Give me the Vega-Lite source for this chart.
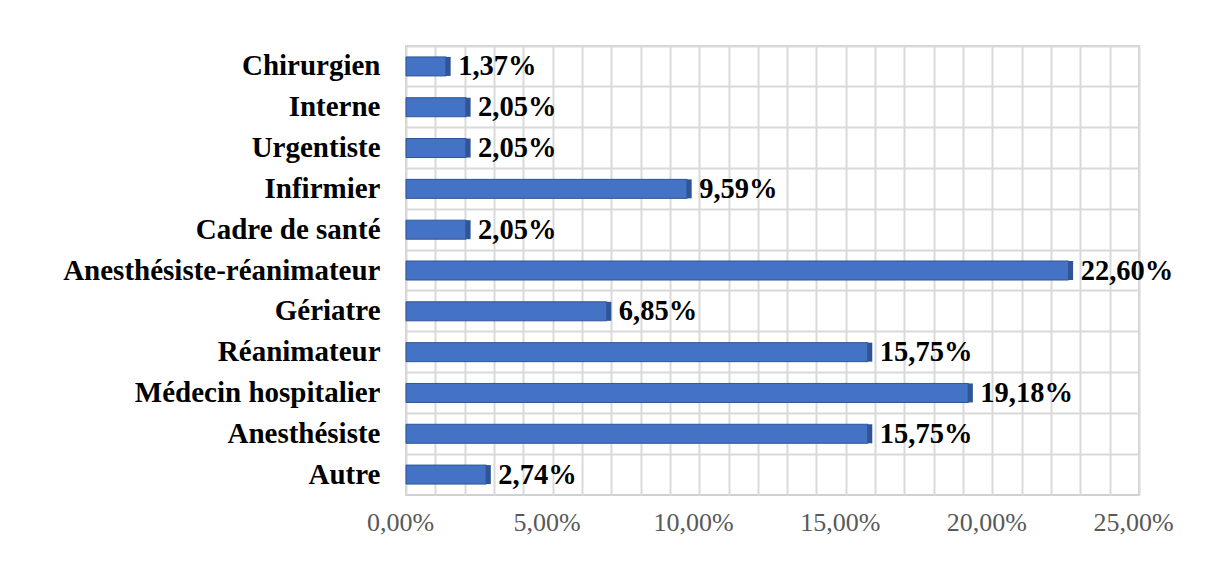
{
  "$schema": "https://vega.github.io/schema/vega-lite/v6.json",
  "width": 733,
  "height": 449,
  "autosize": {"type": "none"},
  "padding": {"left": 406, "top": 46, "right": 85, "bottom": 67},
  "background": "white",
  "config": {
    "locale": {"number": {"decimal": ",", "thousands": " ", "grouping": [3], "currency": ["", " €"]}},
    "view": {"stroke": "#D0D0D0", "strokeWidth": 2},
    "font": "Liberation Serif"
  },
  "data": {
    "values": [
      {"categorie": "Chirurgien", "pct": 0.0137},
      {"categorie": "Interne", "pct": 0.0205},
      {"categorie": "Urgentiste", "pct": 0.0205},
      {"categorie": "Infirmier", "pct": 0.0959},
      {"categorie": "Cadre de santé", "pct": 0.0205},
      {"categorie": "Anesthésiste-réanimateur", "pct": 0.226},
      {"categorie": "Gériatre", "pct": 0.0685},
      {"categorie": "Réanimateur", "pct": 0.1575},
      {"categorie": "Médecin hospitalier", "pct": 0.1918},
      {"categorie": "Anesthésiste", "pct": 0.1575},
      {"categorie": "Autre", "pct": 0.0274}
    ]
  },
  "encoding": {
    "y": {
      "field": "categorie", "type": "nominal", "sort": null,
      "scale": {"paddingInner": 0, "paddingOuter": 0},
      "axis": {
        "title": null, "domain": false, "ticks": false,
        "labelFont": "Liberation Serif", "labelFontSize": 29, "labelFontWeight": "bold",
        "labelColor": "#000000", "labelPadding": 26, "labelLimit": 500,
        "grid": true, "bandPosition": 0, "gridColor": "#D9D9D9", "gridWidth": 2
      }
    },
    "x": {
      "field": "pct", "type": "quantitative",
      "scale": {"domain": [0, 0.25], "nice": false},
      "axis": {
        "title": null, "domain": false, "ticks": false, "format": ".2%",
        "values": [0,0.01,0.02,0.03,0.04,0.05,0.06,0.07,0.08,0.09,0.1,0.11,0.12,0.13,0.14,0.15,0.16,0.17,0.18,0.19,0.2,0.21,0.22,0.23,0.24,0.25],
        "labelExpr": "round(datum.value*100) % 5 == 0 ? datum.label : ''",
        "labelFont": "Liberation Serif", "labelFontSize": 26, "labelColor": "#595959",
        "labelPadding": 14, "labelOffset": -6, "labelFlush": false, "labelOverlap": false,
        "grid": true, "gridColor": "#D9D9D9", "gridWidth": 2
      }
    }
  },
  "layer": [
    {"mark": {"type": "bar", "height": 19, "color": "#4472C4", "stroke": "#2F5597", "strokeWidth": 1}},
    {"mark": {"type": "tick", "orient": "vertical", "size": 19, "thickness": 5, "color": "#2F5597", "opacity": 1, "xOffset": 2}},
    {
      "mark": {"type": "text", "align": "left", "baseline": "middle", "dx": 12, "font": "Liberation Serif", "fontSize": 28.5, "fontWeight": "bold", "color": "#000000"},
      "encoding": {"text": {"field": "pct", "type": "quantitative", "format": ".2%"}}
    }
  ]
}
